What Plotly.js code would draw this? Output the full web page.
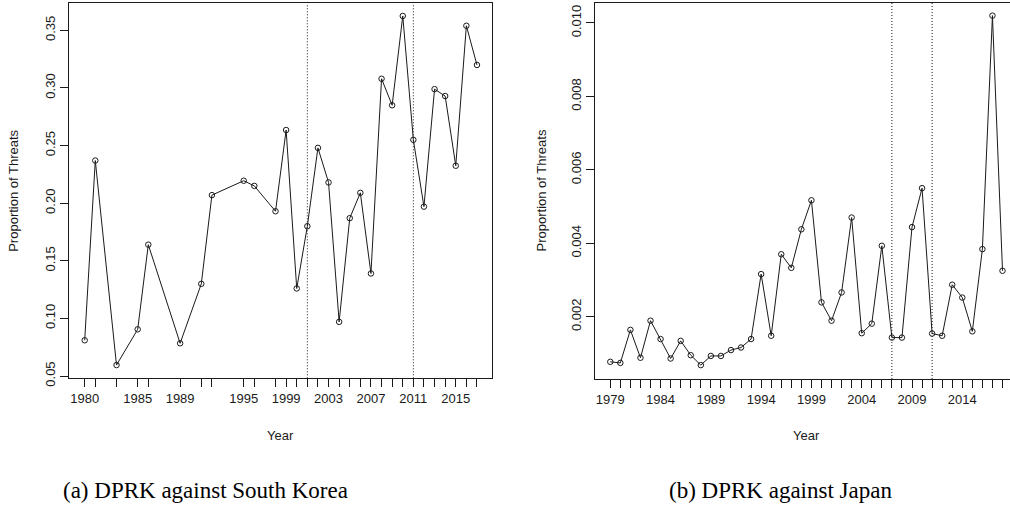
<!DOCTYPE html>
<html>
<head>
<meta charset="utf-8">
<script src="https://cdn.plot.ly/plotly-3.0.1.min.js"></script>
<style>
  html, body { margin: 0; padding: 0; background: #fff; overflow: hidden; }
  #chart { width: 1020px; height: 508px; }
</style>
</head>
<body>
<div id="chart"></div>
<script>
// DPRK threats against South Korea, share of all events by year
const skYears = [1980, 1981, 1983, 1985, 1986, 1989, 1991, 1992, 1995, 1996, 1998,
  1999, 2000, 2001, 2002, 2003, 2004, 2005, 2006, 2007, 2008, 2009, 2010,
  2011, 2012, 2013, 2014, 2015, 2016, 2017];
const skValues = [0.081, 0.237, 0.0595, 0.0905, 0.164, 0.0784, 0.130, 0.207, 0.2195, 0.215, 0.193,
  0.2635, 0.126, 0.180, 0.248, 0.218, 0.097, 0.187, 0.209, 0.139, 0.308, 0.285, 0.3625,
  0.255, 0.197, 0.299, 0.293, 0.2325, 0.354, 0.320];
const skYearLabels = [1980, 1985, 1989, 1995, 1999, 2003, 2007, 2011, 2015];
const skBreaks = [2001, 2011];
const skYTicks = [0.05, 0.10, 0.15, 0.20, 0.25, 0.30, 0.35];
const skYTickText = ['0.05', '0.10', '0.15', '0.20', '0.25', '0.30', '0.35'];

// DPRK threats against Japan, share of all events by year
const jpYears = [1979, 1980, 1981, 1982, 1983, 1984, 1985, 1986, 1987, 1988,
  1989, 1990, 1991, 1992, 1993, 1994, 1995, 1996, 1997, 1998,
  1999, 2000, 2001, 2002, 2003, 2004, 2005, 2006, 2007, 2008,
  2009, 2010, 2011, 2012, 2013, 2014, 2015, 2016, 2017, 2018];
const jpValues = [0.00077, 0.00074, 0.00164, 0.00088, 0.00189, 0.00139, 0.00086, 0.00134, 0.00095, 0.00068,
  0.00093, 0.00093, 0.00109, 0.00116, 0.00139, 0.00316, 0.00148, 0.00370, 0.00333, 0.00438,
  0.00517, 0.00239, 0.00189, 0.00266, 0.00470, 0.00155, 0.00181, 0.00393, 0.00143, 0.00143,
  0.00444, 0.00550, 0.00154, 0.00148, 0.00287, 0.00252, 0.00160, 0.00384, 0.01020, 0.00325];
const jpYearLabels = [1979, 1984, 1989, 1994, 1999, 2004, 2009, 2014];
const jpBreaks = [2007, 2011];
const jpYTicks = [0.002, 0.004, 0.006, 0.008, 0.010];
const jpYTickText = ['0.002', '0.004', '0.006', '0.008', '0.010'];

const W = 1020, H = 508;
const px = v => v / W;
const py = v => 1 - v / H;

const sans = 'Liberation Sans, Arial, Helvetica, sans-serif';
const serif = 'Liberation Serif, Times New Roman, Times, serif';
const ink = '#1a1a1a';

// every year gets a tick; only some carry a label
const yearText = (years, labelled) => years.map(y => labelled.includes(y) ? String(y) : '');

function series(x, y, xa, ya) {
  return {
    x: x, y: y, xaxis: xa, yaxis: ya,
    type: 'scatter', mode: 'lines+markers',
    line: { color: ink, width: 1 },
    marker: { symbol: 'circle-open', size: 5.5, color: ink, line: { color: ink, width: 1 } },
    hoverinfo: 'x+y', showlegend: false
  };
}

function xAxis(domain, range, years, labelled, anchor) {
  return {
    domain: domain, range: range, anchor: anchor,
    tickmode: 'array', tickvals: years, ticktext: yearText(years, labelled),
    ticks: 'outside', ticklen: 8, tickwidth: 1, tickcolor: ink,
    showline: true, mirror: true, linecolor: ink, linewidth: 1,
    showgrid: false, zeroline: false,
    tickfont: { family: sans, size: 13, color: ink }
  };
}

function yAxis(domain, range, vals, text, anchor) {
  return {
    domain: domain, range: range, anchor: anchor,
    tickmode: 'array', tickvals: vals, ticktext: text, tickangle: -90,
    ticks: 'outside', ticklen: 8, tickwidth: 1, tickcolor: ink,
    showline: true, mirror: true, linecolor: ink, linewidth: 1,
    showgrid: false, zeroline: false,
    tickfont: { family: sans, size: 13, color: ink }
  };
}

function breakLines(years, xa, ya) {
  return years.map(y => ({
    type: 'line', xref: xa, yref: ya + ' domain',
    x0: y, x1: y, y0: 0, y1: 1,
    line: { color: ink, width: 1, dash: '1px,2px' }
  }));
}

const data = [
  series(skYears, skValues, 'x', 'y'),
  series(jpYears, jpValues, 'x2', 'y2')
];

const layout = {
  width: W, height: H,
  margin: { l: 0, r: 0, t: 0, b: 0 },
  paper_bgcolor: '#fff', plot_bgcolor: '#fff',
  xaxis: xAxis([px(69), px(491.7)], [1978.52, 2018.39], skYears, skYearLabels, 'y'),
  yaxis: yAxis([py(378.3), py(3.3)], [0.048, 0.3735], skYTicks, skYTickText, 'x'),
  xaxis2: xAxis([px(595), px(1018.4)], [1977.48, 2019.58], jpYears, jpYearLabels, 'y2'),
  yaxis2: yAxis([py(379), py(3)], [0.000302, 0.010544], jpYTicks, jpYTickText, 'x2'),
  shapes: [].concat(breakLines(skBreaks, 'x', 'y'), breakLines(jpBreaks, 'x2', 'y2')),
  annotations: [
    { text: 'Year', xref: 'paper', yref: 'paper', x: px(280.5), y: py(435), showarrow: false,
      xanchor: 'center', yanchor: 'middle', font: { family: sans, size: 13, color: ink } },
    { text: 'Year', xref: 'paper', yref: 'paper', x: px(806), y: py(435), showarrow: false,
      xanchor: 'center', yanchor: 'middle', font: { family: sans, size: 13, color: ink } },
    { text: 'Proportion of Threats', xref: 'paper', yref: 'paper', x: px(14), y: py(190.8),
      textangle: -90, showarrow: false, xanchor: 'center', yanchor: 'middle',
      font: { family: sans, size: 13, color: ink } },
    { text: 'Proportion of Threats', xref: 'paper', yref: 'paper', x: px(540.5), y: py(191),
      textangle: -90, showarrow: false, xanchor: 'center', yanchor: 'middle',
      font: { family: sans, size: 13, color: ink } },
    { text: '(a) DPRK against South Korea', xref: 'paper', yref: 'paper', x: px(205.5), y: py(490),
      showarrow: false, xanchor: 'center', yanchor: 'middle',
      font: { family: serif, size: 23, color: '#000' } },
    { text: '(b) DPRK against Japan', xref: 'paper', yref: 'paper', x: px(780.5), y: py(490),
      showarrow: false, xanchor: 'center', yanchor: 'middle',
      font: { family: serif, size: 23, color: '#000' } }
  ]
};

Plotly.newPlot('chart', data, layout, { displayModeBar: false, staticPlot: true });
</script>
</body>
</html>
